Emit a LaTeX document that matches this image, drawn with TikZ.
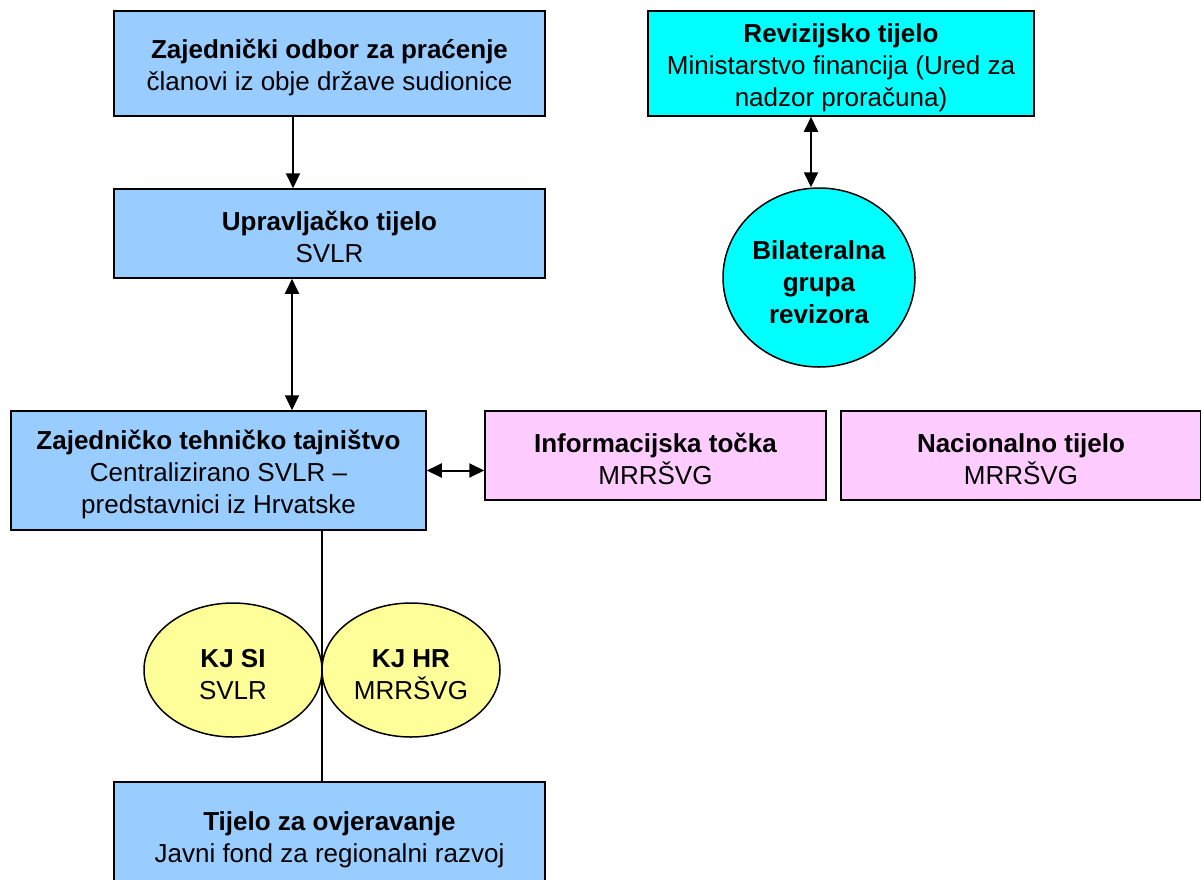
\documentclass[tikz,border=0pt]{standalone}
\usepackage{fontspec}
\setmainfont{Liberation Sans}
\usetikzlibrary{shapes.geometric,arrows.meta}
\definecolor{lblue}{HTML}{99CCFF}
\definecolor{cyanc}{HTML}{00FFFF}
\definecolor{pinkc}{HTML}{FFCCFF}
\definecolor{yelc}{HTML}{FFFF99}
\newcommand\topstrut{\rule{0pt}{27pt}}
\begin{document}
\begin{tikzpicture}[x=1pt,y=-1pt,
  every node/.style={font=\fontsize{26}{32}\selectfont, align=center, inner sep=0pt},
  boxn/.style={draw=black, line width=1.5pt, rectangle, minimum width=#1},
  bluebox/.style={boxn=431pt, fill=lblue},
  ell/.style={draw=black, line width=1.5pt, ellipse, fill=yelc, minimum width=178pt, minimum height=134pt},
  arr/.style={line width=2pt, -{Triangle[length=15pt,width=14pt]}},
  darr/.style={line width=2pt, {Triangle[length=15pt,width=14pt]}-{Triangle[length=15pt,width=14pt]}},
  plain/.style={line width=1.5pt}]
\clip (0,0) rectangle (1201,879);
\useasboundingbox (0,0) rectangle (1201,879);
\fill[white] (0,0) rectangle (1201,879);

\node[bluebox, minimum height=105pt] (zo) at (329.5,63.5)
  {\topstrut\textbf{Zajednički odbor za praćenje}\\članovi iz obje države sudionice};
\node[bluebox, minimum height=89pt] (ut) at (329.5,233.5)
  {\topstrut\textbf{Upravljačko tijelo}\\SVLR};
\node[boxn=386pt, fill=cyanc, minimum height=105pt] (rt) at (841,63.5)
  {\topstrut\textbf{Revizijsko tijelo}\\Ministarstvo financija (Ured za\\nadzor proračuna)};
\node[draw=black, line width=1.5pt, ellipse, fill=cyanc, minimum width=192pt, minimum height=179pt] (bg) at (819,277.5)
  {\rule{0pt}{28pt}\textbf{Bilateralna}\\\textbf{grupa}\\\textbf{revizora}};
\node[boxn=415pt, fill=lblue, minimum height=119pt] (ztt) at (218.5,470.5)
  {\topstrut\textbf{Zajedničko tehničko tajništvo}\\Centralizirano SVLR –\\predstavnici iz Hrvatske};
\node[boxn=341pt, fill=pinkc, minimum height=89pt] (it) at (655.5,455.5)
  {\topstrut\textbf{Informacijska točka}\\MRRŠVG};
\node[boxn=360pt, fill=pinkc, minimum height=89pt] (nt) at (1021,455.5)
  {\topstrut\textbf{Nacionalno tijelo}\\MRRŠVG};
\node[bluebox, minimum height=108pt] (tov) at (329.5,836)
  {\topstrut\textbf{Tijelo za ovjeravanje}\\Javni fond za regionalni razvoj};

% vertical line behind ellipses
\coordinate (lt) at ([xshift=103.5pt]ztt.south);
\draw[plain] (lt) -- (lt |- tov.north);

\node[ell] (kjsi) at (233,670) {\topstrut\textbf{KJ SI}\\SVLR};
\node[ell] (kjhr) at (411,670) {\topstrut\textbf{KJ HR}\\MRRŠVG};

% connectors
\draw[arr] ([xshift=-36.5pt]zo.south) -- ([xshift=-36.5pt]ut.north);
\draw[darr] ([xshift=-37.5pt]ut.south) -- ([xshift=-37.5pt]ut.south |- ztt.north);
\draw[darr] ([xshift=-30pt]rt.south) -- ([xshift=-30pt]rt.south |- bg.north);
\draw[darr] (ztt.east) -- (ztt.east -| it.west);
\end{tikzpicture}
\end{document}
